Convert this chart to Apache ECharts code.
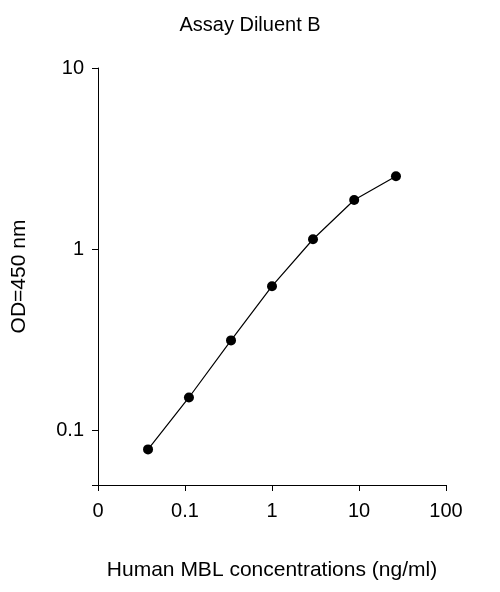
<!DOCTYPE html>
<html><head><meta charset="utf-8">
<script src="https://cdn.jsdelivr.net/npm/echarts@6/dist/echarts.min.js"></script>
<style>body{margin:0}#c{width:500px;height:592px}</style></head>
<body><div id="c"></div>
<script>
var concentrations = [0.0376, 0.111, 0.338, 1.0, 2.96, 8.8, 26.6];
var odValues = [0.0786, 0.152, 0.314, 0.625, 1.135, 1.87, 2.53];
var xTickLabels = {0.01: '0', 0.1: '0.1', 1: '1', 10: '10', 100: '100'};

var points = concentrations.map(function (c, i) { return [c, odValues[i]]; });
var font = 'Liberation Sans, Arial, sans-serif';
var chart = echarts.init(document.getElementById('c'));
chart.setOption({
    animation: false,
    title: { text: 'Assay Diluent B', left: 'center', top: 10,
        textStyle: { fontFamily: font, fontSize: 20, fontWeight: 'normal', color: '#000' } },
    grid: { left: 98, right: 54, top: 68, bottom: 107 },
    xAxis: {
        type: 'log', logBase: 10, min: 0.01, max: 100,
        name: 'Human MBL concentrations (ng/ml)', nameLocation: 'middle', nameGap: 75,
        nameTextStyle: { fontFamily: font, fontSize: 21, color: '#000' },
        axisLine: { lineStyle: { color: '#000' } },
        axisTick: { lineStyle: { color: '#000' }, length: 6 },
        minorTick: { show: false },
        splitLine: { show: false },
        axisLabel: { fontFamily: font, fontSize: 20, color: '#000', margin: 16,
            formatter: function (v) { var k = Math.round(Math.log10(v)); return xTickLabels[Math.pow(10, k)] || ''; } }
    },
    yAxis: {
        type: 'log', logBase: 10, min: 0.05, max: 10,
        name: 'OD=450 nm', nameLocation: 'middle', nameGap: 68,
        nameTextStyle: { fontFamily: font, fontSize: 21, color: '#000' },
        axisLine: { show: true, lineStyle: { color: '#000' } },
        axisTick: { show: true, lineStyle: { color: '#000' }, length: 6 },
        splitLine: { show: false },
        axisLabel: { fontFamily: font, fontSize: 20, color: '#000', margin: 14,
            formatter: function (v) { return [0.1, 1, 10].some(function (t) { return Math.abs(v - t) < 1e-9; }) ? String(v) : ''; } }
    },
    series: [{
        type: 'line', data: points, symbol: 'circle', symbolSize: 10,
        lineStyle: { color: '#000', width: 1.2 }, itemStyle: { color: '#000' }
    }]
});
</script></body></html>
